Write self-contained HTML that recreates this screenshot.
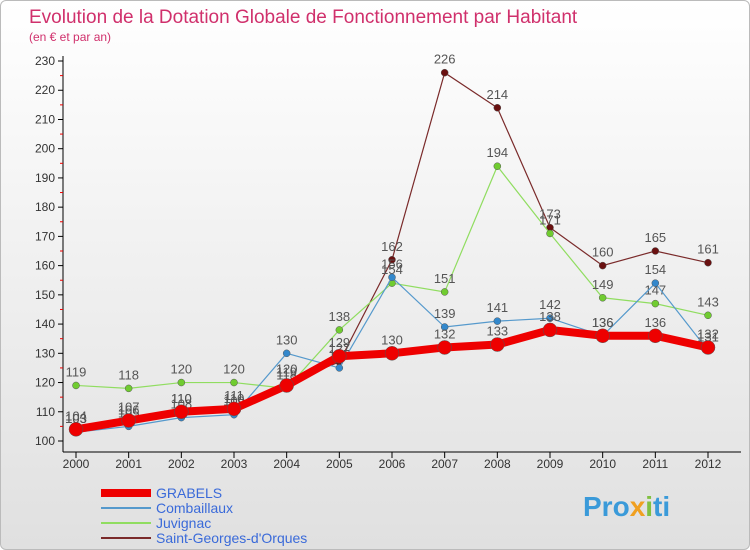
<!DOCTYPE html>
<html><head><meta charset="utf-8"><style>
body{margin:0;background:#fff;font-family:"Liberation Sans",sans-serif}
#w{position:relative;width:750px;height:550px;overflow:hidden;background:linear-gradient(#fff,#e0e0e0);border:1px solid #bbb;box-sizing:border-box;border-radius:6px}
</style></head><body>
<div id="w">
<svg id="s" width="750" height="550" style="position:absolute;left:0;top:0">
<text x="28" y="22" font-size="19" fill="#d0306c">Evolution de la Dotation Globale de Fonctionnement par Habitant</text>
<text x="28" y="40" font-size="12" fill="#d0306c">(en € et par an)</text>
<g id="ax"></g><g id="marks"></g><g id="leg"></g>
<text x="582" y="515" font-size="28" font-weight="bold" fill="#3a9ad9">Pro<tspan fill="#f0a020">x</tspan><tspan fill="#80c040">i</tspan>ti</text>
</svg></div>
<script>
const years=[2000,2001,2002,2003,2004,2005,2006,2007,2008,2009,2010,2011,2012];
const yTicks=[100,110,120,130,140,150,160,170,180,190,200,210,220,230];
const grabels=[104,107,110,111,119,129,130,132,133,138,136,136,132];
const combaillaux=[103,105,108,109,130,125,156,139,141,142,136,154,131];
const juvignac=[119,118,120,120,118,138,154,151,194,171,149,147,143];
const stGeorges=[103,106,110,110,120,127,162,226,214,173,160,165,161];
const NS="http://www.w3.org/2000/svg";
const X=i=>75+i*(707-75)/(years.length-1);
const Y=v=>440-(v-100)*(380/130);
function mk(p,t,a){const e=document.createElementNS(NS,t);for(const k in a)e.setAttribute(k,a[k]);p.appendChild(e);return e;}
const ax=document.getElementById('ax');
let l=mk(ax,'line',{x1:62,y1:55,x2:62,y2:451,stroke:'#000'});


l=mk(ax,'line',{x1:62,y1:451,x2:740,y2:451,stroke:'#000'});


yTicks.forEach(v=>{mk(ax,'line',{x1:57,y1:Y(v),x2:62,y2:Y(v),stroke:'#000'});
 if(v<230)mk(ax,'line',{x1:59,y1:Y(v+5),x2:62,y2:Y(v+5),stroke:'#e00'});
 const t=mk(ax,'text',{x:54,y:Y(v)+4,'font-size':12,'text-anchor':'end',fill:'#333'});t.textContent=v;
 
 });
years.forEach((y,i)=>{mk(ax,'line',{x1:X(i),y1:451,x2:X(i),y2:457,stroke:'#000'});
 const t=mk(ax,'text',{x:X(i),y:467,'font-size':12,'text-anchor':'middle',fill:'#333'});t.textContent=y;
 
 });
const series=[
 {n:'saint-georges',d:stGeorges,c:'#7a2a2a',w:1.2,r:3.5,f:'#6a1010'},
 {n:'juvignac',d:juvignac,c:'#90dd60',w:1.2,r:3.5,f:'#70cc30'},
 {n:'combaillaux',d:combaillaux,c:'#5599cc',w:1.2,r:3.5,f:'#3388cc'},
 {n:'grabels',d:grabels,c:'#ee0000',w:8,r:7,f:'#ee0000'}];
const mg=document.getElementById('marks');
series.forEach(s=>{
 const p=mk(mg,'polyline',{points:s.d.map((v,i)=>X(i)+','+Y(v)).join(' '),fill:'none',stroke:s.c,'stroke-width':s.w});
 
 
 s.d.forEach((v,i)=>{const c=mk(mg,'circle',{cx:X(i),cy:Y(v),r:s.r,fill:s.f,stroke:'#555','stroke-width':0.5});
  
  
  const t=mk(mg,'text',{x:X(i),y:Y(v)-9,'font-size':13,'text-anchor':'middle',fill:'#555'});t.textContent=v;
  
  });
});
const leg=document.getElementById('leg');
[['GRABELS','#ee0000',8],['Combaillaux','#5599cc',2],['Juvignac','#90dd60',2],['Saint-Georges-d\'Orques','#7a2a2a',2]].forEach((e,i)=>{
 const y=492+i*15;
 const ln=mk(leg,'line',{x1:100,y1:y,x2:150,y2:y,stroke:e[1],'stroke-width':e[2]});
 
 
 const t=mk(leg,'text',{x:155,y:y+5,'font-size':14,fill:'#3a6ad9'});t.textContent=e[0];
 
 
});
</script></body></html>
